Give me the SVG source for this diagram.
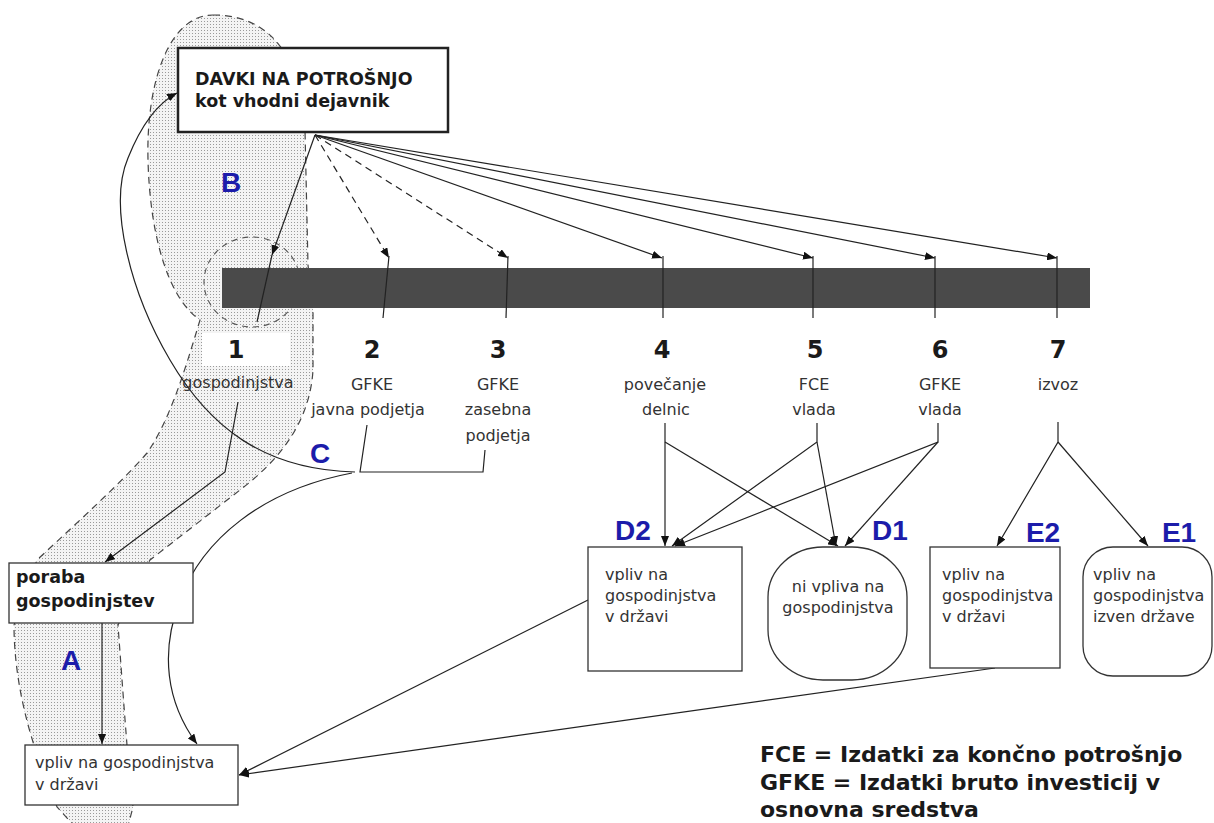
<svg xmlns="http://www.w3.org/2000/svg" width="1214" height="823" viewBox="0 0 1214 823">
<style>
.lbl{font-family:"DejaVu Sans",sans-serif;font-size:16px;fill:#333}
.bold{font-family:"DejaVu Sans",sans-serif;font-weight:bold;font-size:17.5px;fill:#1a1a1a}
.num{font-family:"DejaVu Sans",sans-serif;font-weight:bold;font-size:24px;fill:#1a1a1a;text-anchor:middle}
.let{font-family:"Liberation Sans",Arial,sans-serif;font-weight:bold;font-size:28px;fill:#1c1caa;text-anchor:middle}
.leg{font-family:"DejaVu Sans",sans-serif;font-weight:bold;font-size:22px;fill:#1a1a1a}
.box{fill:#fff;stroke:#333;stroke-width:1.3}
.ln{fill:none;stroke:#222;stroke-width:1.2}
.dash{stroke-dasharray:7,5}
.reg{fill:url(#dots);stroke:#444;stroke-width:1.2;stroke-dasharray:7,5}
.ctr{text-anchor:middle}
</style>
<defs>
<pattern id="dots" width="3" height="3" patternUnits="userSpaceOnUse">
<rect width="3" height="3" fill="#f4f4f4"/>
<rect width="1" height="1" fill="#9a9a9a"/>
</pattern>
<marker id="ah" markerUnits="userSpaceOnUse" markerWidth="11" markerHeight="8" refX="10" refY="4" orient="auto">
<path d="M0,0 L10,4 L0,8 z" fill="#111"/>
</marker>
</defs>

<g id="regions">
<path class="reg" d="M213,15 C262,15 300,45 305,130 L308,265 L313,310 L313,370 C310,420 282,458 240,490 L150,560 L118,625 C122,680 125,720 127,745 L133,807 L127,830 L78,830 L57,807 L33,742 C20,700 14,660 14,625 L37,560 C80,520 122,482 147,453 C170,420 185,370 200,320 C170,300 150,240 148,160 C146,80 170,15 213,15 Z"/>
<ellipse cx="252" cy="282" rx="48" ry="45" fill="none" stroke="#555" stroke-width="1.1" stroke-dasharray="6,5"/>
<rect x="202" y="333" width="88" height="33" fill="#fff"/>
</g>

<g id="bar">
<rect x="222" y="268" width="868" height="40" fill="#4a4a4a"/>
</g>

<g id="connectors">
<!-- fan from DAVKI -->
<line class="ln" x1="315" y1="135" x2="272" y2="255" marker-end="url(#ah)"/>
<line class="ln" x1="272" y1="255" x2="257" y2="322"/>
<line class="ln dash" x1="315" y1="135" x2="389" y2="258" marker-end="url(#ah)"/>
<line class="ln dash" x1="315" y1="135" x2="508" y2="258" marker-end="url(#ah)"/>
<line class="ln" x1="315" y1="135" x2="662" y2="258" marker-end="url(#ah)"/>
<line class="ln" x1="315" y1="135" x2="813" y2="258" marker-end="url(#ah)"/>
<line class="ln" x1="315" y1="135" x2="935" y2="258" marker-end="url(#ah)"/>
<line class="ln" x1="315" y1="135" x2="1057" y2="258" marker-end="url(#ah)"/>
<line class="ln" x1="389" y1="256" x2="383" y2="318"/>
<line class="ln" x1="508" y1="256" x2="506" y2="318"/>
<line class="ln" x1="663" y1="256" x2="663" y2="318"/>
<line class="ln" x1="813" y1="256" x2="813" y2="318"/>
<line class="ln" x1="935" y1="256" x2="935" y2="318"/>
<line class="ln" x1="1057" y1="256" x2="1057" y2="318"/>
<!-- 1 to poraba -->
<polyline class="ln" points="238,402 225,472 105,562" marker-end="url(#ah)"/>
<!-- 2 and 3 -->
<polyline class="ln" points="367,425 360,472 483,472 485,450"/>
<path class="ln" d="M355,472 C262,470 208,425 170,360 C130,292 108,205 128,158 C140,128 156,104 177,93" marker-end="url(#ah)"/>
<path class="ln" d="M352,473 C262,490 202,540 180,600 C160,652 166,702 197,744" marker-end="url(#ah)"/>
<!-- poraba to vpliv -->
<line class="ln" x1="102" y1="623" x2="102" y2="744" marker-end="url(#ah)"/>
<!-- 4,5,6 to D -->
<line class="ln" x1="665" y1="423" x2="665" y2="546" marker-end="url(#ah)"/>
<line class="ln" x1="665" y1="442" x2="838" y2="546" marker-end="url(#ah)"/>
<polyline class="ln" points="817,423 817,442 672,546" marker-end="url(#ah)"/>
<line class="ln" x1="817" y1="442" x2="836" y2="546" marker-end="url(#ah)"/>
<polyline class="ln" points="938,423 938,442 675,546" marker-end="url(#ah)"/>
<line class="ln" x1="938" y1="442" x2="845" y2="546" marker-end="url(#ah)"/>
<!-- 7 to E -->
<polyline class="ln" points="1058,422 1058,442 997,546" marker-end="url(#ah)"/>
<line class="ln" x1="1058" y1="442" x2="1148" y2="546" marker-end="url(#ah)"/>
<!-- D2 and E2 back to vpliv -->
<line class="ln" x1="588" y1="600" x2="239" y2="775" marker-end="url(#ah)"/>
<line class="ln" x1="995" y1="668" x2="239" y2="775" marker-end="url(#ah)"/>
</g>

<g id="davki">
<rect x="178" y="48" width="270" height="84" fill="#fff" stroke="#222" stroke-width="2.5"/>
<text class="bold" x="195" y="85">DAVKI NA POTROŠNJO</text>
<text class="bold" x="195" y="107">kot vhodni dejavnik</text>
</g>

<g id="item1">
<text class="num" x="236" y="358">1</text>
<text class="lbl ctr" x="238" y="388">gospodinjstva</text>
</g>
<g id="item2">
<text class="num" x="372" y="358">2</text>
<text class="lbl ctr" x="372" y="390">GFKE</text>
<text class="lbl ctr" x="368" y="415">javna podjetja</text>
</g>
<g id="item3">
<text class="num" x="498" y="358">3</text>
<text class="lbl ctr" x="498" y="390">GFKE</text>
<text class="lbl ctr" x="498" y="415">zasebna</text>
<text class="lbl ctr" x="498" y="441">podjetja</text>
</g>
<g id="item4">
<text class="num" x="662" y="358">4</text>
<text class="lbl ctr" x="665" y="390">povečanje</text>
<text class="lbl ctr" x="666" y="415">delnic</text>
</g>
<g id="item5">
<text class="num" x="815" y="358">5</text>
<text class="lbl ctr" x="814" y="390">FCE</text>
<text class="lbl ctr" x="814" y="415">vlada</text>
</g>
<g id="item6">
<text class="num" x="940" y="358">6</text>
<text class="lbl ctr" x="940" y="390">GFKE</text>
<text class="lbl ctr" x="940" y="415">vlada</text>
</g>
<g id="item7">
<text class="num" x="1058" y="358">7</text>
<text class="lbl ctr" x="1058" y="390">izvoz</text>
</g>

<g id="poraba">
<rect class="box" x="9" y="563" width="184" height="60"/>
<text class="bold" x="16" y="583">poraba</text>
<text class="bold" x="16" y="607">gospodinjstev</text>
</g>

<g id="vpliv">
<rect class="box" x="25" y="745" width="213" height="60"/>
<text class="lbl" x="35" y="768">vpliv na gospodinjstva</text>
<text class="lbl" x="35" y="790">v državi</text>
</g>

<g id="d2">
<rect class="box" x="588" y="547" width="154" height="124"/>
<text class="lbl" x="605" y="580">vpliv na</text>
<text class="lbl" x="605" y="601">gospodinjstva</text>
<text class="lbl" x="605" y="622">v državi</text>
</g>

<g id="d1">
<rect class="box" x="768" y="547" width="139" height="133" rx="55" ry="50"/>
<text class="lbl ctr" x="838" y="592">ni vpliva na</text>
<text class="lbl ctr" x="838" y="613">gospodinjstva</text>
</g>

<g id="e2">
<rect class="box" x="930" y="547" width="130" height="121"/>
<text class="lbl" x="942" y="580">vpliv na</text>
<text class="lbl" x="942" y="601">gospodinjstva</text>
<text class="lbl" x="942" y="622">v državi</text>
</g>

<g id="e1">
<rect class="box" x="1083" y="547" width="129" height="129" rx="30" ry="30"/>
<text class="lbl" x="1093" y="580">vpliv na</text>
<text class="lbl" x="1093" y="601">gospodinjstva</text>
<text class="lbl" x="1093" y="622">izven države</text>
</g>

<g id="letters">
<text class="let" x="231" y="192">B</text>
<text class="let" x="320" y="463">C</text>
<text class="let" x="71" y="670">A</text>
<text class="let" x="633" y="540">D2</text>
<text class="let" x="890" y="540">D1</text>
<text class="let" x="1043" y="542">E2</text>
<text class="let" x="1179" y="542">E1</text>
</g>

<g id="legend">
<text class="leg" x="760" y="762">FCE = Izdatki za končno potrošnjo</text>
<text class="leg" x="760" y="790">GFKE = Izdatki bruto investicij v</text>
<text class="leg" x="760" y="817">osnovna sredstva</text>
</g>
</svg>
